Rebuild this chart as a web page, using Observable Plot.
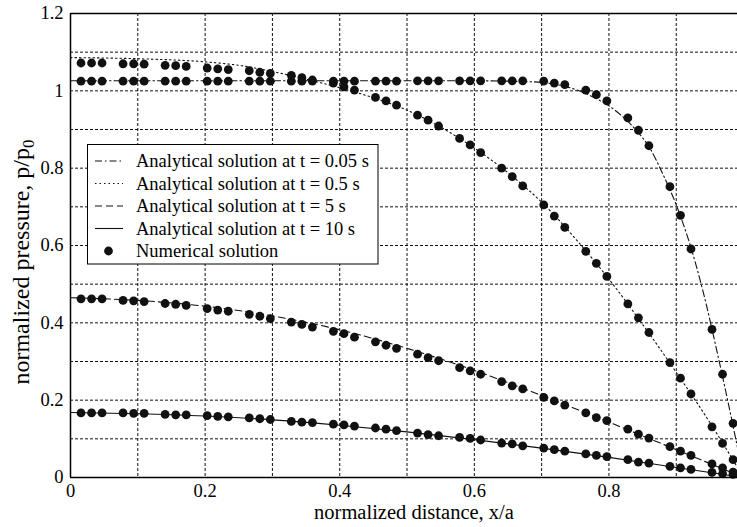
<!DOCTYPE html>
<html><head><meta charset="utf-8">
<script src="https://cdn.jsdelivr.net/npm/d3@7"></script>
<script src="https://cdn.jsdelivr.net/npm/@observablehq/plot@0.6"></script>
<style>body{margin:0;background:#fff}#chart{width:737px;height:527px;overflow:hidden}
#chart svg text{font-family:'Liberation Serif','Times New Roman',serif}</style>
</head><body><div id="chart"></div>
<script>
// ---- data ----
const xNum = [0.0156,0.0313,0.0469, 0.0781,0.0938,0.1094, 0.1406,0.1563,0.1719, 0.2031,0.2188,0.2344,
  0.2656,0.2813,0.2969, 0.3281,0.3438,0.3594, 0.3906,0.4063,0.4219, 0.4531,0.4688,0.4844,
  0.5156,0.5313,0.5469, 0.5781,0.5938,0.6094, 0.6406,0.6563,0.6719, 0.7031,0.7188,0.7344,
  0.7656,0.7813,0.7969, 0.8281,0.8438,0.8594, 0.8906,0.9063,0.9219, 0.9531,0.9688,0.9844];
const num005 = [1.025,1.025,1.025, 1.025,1.025,1.025, 1.025,1.025,1.025, 1.025,1.025,1.025,
  1.025,1.025,1.025, 1.025,1.025,1.025, 1.025,1.025,1.025, 1.025,1.025,1.025,
  1.026,1.026,1.026, 1.026,1.026,1.026, 1.026,1.026,1.026, 1.025,1.020,1.016,
  1.002,0.990,0.974, 0.930,0.898,0.858, 0.752,0.678,0.591, 0.383,0.267,0.140];
const num05 = [1.072,1.072,1.072, 1.070,1.070,1.069, 1.066,1.065,1.063, 1.059,1.057,1.055,
  1.052,1.048,1.045, 1.040,1.034,1.028, 1.020,1.010,1.002, 0.983,0.974,0.963,
  0.937,0.924,0.909, 0.877,0.860,0.840, 0.800,0.778,0.754, 0.705,0.676,0.647,
  0.585,0.554,0.520, 0.449,0.413,0.375, 0.297,0.257,0.216, 0.131,0.088,0.046];
const num5 = [0.462,0.462,0.462, 0.458,0.457,0.455, 0.450,0.448,0.445, 0.437,0.433,0.430,
  0.422,0.417,0.411, 0.402,0.396,0.389, 0.378,0.372,0.363, 0.351,0.342,0.334,
  0.319,0.310,0.302, 0.284,0.276,0.267, 0.248,0.237,0.229, 0.207,0.198,0.187,
  0.167,0.155,0.147, 0.125,0.112,0.102, 0.080,0.068,0.057, 0.035,0.025,0.014];
const num10 = [0.167,0.167,0.167, 0.167,0.166,0.166, 0.163,0.162,0.162, 0.160,0.158,0.157,
  0.154,0.152,0.150, 0.145,0.143,0.142, 0.138,0.136,0.133, 0.128,0.125,0.121,
  0.115,0.111,0.108, 0.104,0.101,0.097, 0.089,0.087,0.082, 0.076,0.072,0.068,
  0.061,0.057,0.054, 0.046,0.040,0.037, 0.029,0.025,0.021, 0.013,0.010,0.008];

const xA005 = [0,0.1,0.2,0.3,0.4,0.5,0.6,0.65,0.7,0.72,0.74,0.76,0.78,0.8,0.82,0.84,0.86,0.88,0.9,0.92,0.94,0.96,0.98,1.0];
const ana005 = [1.026,1.026,1.026,1.026,1.026,1.026,1.026,1.025,1.022,1.017,1.009,0.997,0.981,0.961,0.934,0.899,0.854,0.785,0.705,0.605,0.48,0.33,0.17,0.0];
const xA05 = [0,0.1,0.2,0.25,0.3,0.35,0.4,0.45,0.5,0.55,0.6,0.65,0.7,0.75,0.8,0.85,0.9,0.95,1.0];
const ana05 = [1.086,1.083,1.075,1.066,1.050,1.030,1.008,0.982,0.950,0.906,0.852,0.788,0.712,0.618,0.513,0.396,0.272,0.142,0.0];
const xA = [0,0.1,0.2,0.3,0.4,0.5,0.6,0.7,0.8,0.9,1.0];
const ana5 = [0.465,0.458,0.443,0.418,0.382,0.334,0.277,0.212,0.143,0.072,0.0];
const ana10 = [0.168,0.165,0.159,0.149,0.135,0.118,0.098,0.076,0.052,0.026,0.0];

const xTicks = [0, 0.2, 0.4, 0.6, 0.8];
const yTicks = [0, 0.2, 0.4, 0.6, 0.8, 1, 1.2];
const xGrid = [0.1,0.2,0.3,0.4,0.5,0.6,0.7,0.8,0.9];
const yGrid = [0.1,0.2,0.3,0.4,0.5,0.6,0.7,0.8,0.9,1.0,1.1];
const legendLabels = ["Analytical solution at t = 0.05 s","Analytical solution at t = 0.5 s",
  "Analytical solution at t = 5 s","Analytical solution at t = 10 s","Numerical solution"];

// ---- build ----
const FONT = "'Liberation Serif','Times New Roman',serif";
const dashes = {d005:"7,3,1.5,3", d05:"1.5,3", d5:"7,4", d10:null};
const toRows = (xs, ys) => xs.map((x,i)=>({x, y: ys[i]}));
const numAll = [num005, num05, num5, num10].flatMap(s => toRows(xNum, s));
const fmt = d => String(d);

const chart = Plot.plot({
  width: 737, height: 527,
  marginLeft: 70, marginRight: 0, marginTop: 13, marginBottom: 50,
  style: {fontFamily: FONT, fontSize: "18.5px", background: "white", color: "black"},
  x: {domain: [0, 0.991], ticks: xTicks, tickFormat: fmt, tickSize: 0, tickPadding: 6, label: null},
  y: {domain: [0, 1.2], ticks: yTicks, tickFormat: fmt, tickSize: 0, tickPadding: 7, label: null},
  marks: [
    Plot.ruleX(xGrid, {stroke: "#111", strokeWidth: 1, strokeDasharray: "3,2"}),
    Plot.ruleY(yGrid, {stroke: "#111", strokeWidth: 1, strokeDasharray: "3,2"}),
    Plot.line(toRows(xA005, ana005), {x:"x", y:"y", stroke:"#111", strokeWidth:1.1, strokeDasharray: dashes.d005, curve:"monotone-x", clip:true}),
    Plot.line(toRows(xA05, ana05), {x:"x", y:"y", stroke:"#111", strokeWidth:1.1, strokeDasharray: dashes.d05, curve:"monotone-x", clip:true}),
    Plot.line(toRows(xA, ana5), {x:"x", y:"y", stroke:"#111", strokeWidth:1.1, strokeDasharray: dashes.d5, curve:"monotone-x", clip:true}),
    Plot.line(toRows(xA, ana10), {x:"x", y:"y", stroke:"#111", strokeWidth:1.1, curve:"monotone-x", clip:true}),
    Plot.dot(numAll, {x:"x", y:"y", r: 4.4, fill: "#111", stroke: "none"}),
    Plot.ruleX([0], {stroke:"#000", strokeWidth:1.5}),
    Plot.ruleY([0], {stroke:"#000", strokeWidth:1.5}),
    Plot.ruleY([1.2], {stroke:"#000", strokeWidth:1.5})
  ]
});
document.getElementById("chart").appendChild(chart);

const svg = d3.select(chart);
// axis titles
svg.append("text").attr("x", 414).attr("y", 519).attr("text-anchor","middle")
  .attr("font-family", FONT).attr("font-size", 20.5).attr("fill","#000")
  .text("normalized distance, x/a");
const yt = svg.append("text").attr("transform","translate(29,262) rotate(-90)").attr("text-anchor","middle")
  .attr("font-family", FONT).attr("font-size", 24).attr("fill","#000");
yt.append("tspan").text("normalized pressure, p/p");
yt.append("tspan").attr("font-size", 17).attr("dy", 5).text("0");

// legend
const lg = svg.append("g").attr("font-family", FONT).attr("font-size", 18.5).attr("text-anchor","start");
lg.append("rect").attr("x", 87.5).attr("y", 144.5).attr("width", 290.5).attr("height", 119.5)
  .attr("fill","#fff").attr("stroke","#000").attr("stroke-width",1);
const rowY = [161, 183.5, 206, 228.5, 251];
const dl = [dashes.d005, dashes.d05, dashes.d5, null];
legendLabels.forEach((lab, i) => {
  const y = rowY[i];
  if (i < 4) {
    const l = lg.append("line").attr("x1",95).attr("x2",123).attr("y1",y).attr("y2",y)
      .attr("stroke","#111").attr("stroke-width",1.1);
    if (dl[i]) l.attr("stroke-dasharray", dl[i]);
  } else {
    lg.append("circle").attr("cx",108.5).attr("cy",y).attr("r",4.4).attr("fill","#111");
  }
  lg.append("text").attr("x",136).attr("y",y).attr("dy","0.35em").attr("text-anchor","start")
    .attr("fill","#000").text(lab);
});
</script>
</body></html>
